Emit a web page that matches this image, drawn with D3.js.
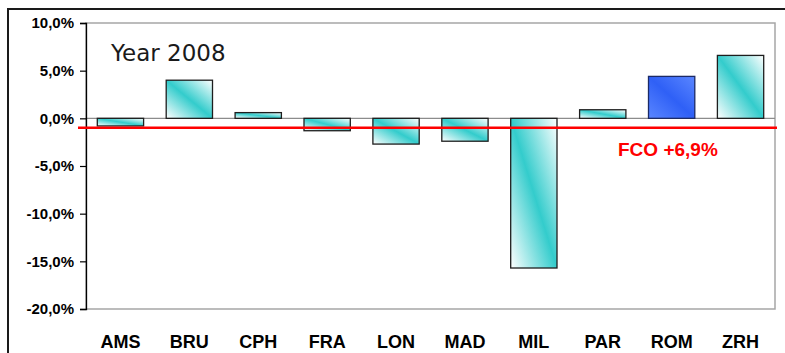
<!DOCTYPE html>
<html>
<head>
<meta charset="utf-8">
<script src="https://cdn.jsdelivr.net/npm/d3@7"></script>
<style>
  html, body { margin: 0; padding: 0; background: #fff; }
  svg { display: block; }
</style>
</head>
<body>
<svg id="chart" width="785" height="353"></svg>
<script>
// ---- data ----
const categories = ["AMS", "BRU", "CPH", "FRA", "LON", "MAD", "MIL", "PAR", "ROM", "ZRH"];
const values = [-0.8, 4.0, 0.6, -1.3, -2.7, -2.4, -15.7, 0.9, 4.4, 6.6];
const highlighted = ["ROM"];
const yTicks = [-20, -15, -10, -5, 0, 5, 10];
const yDomain = [-20, 10];
const referenceValue = -1.0;
const referenceLabel = "FCO +6,9%";
const titleText = "Year 2008";

// ---- layout ----
const svg = d3.select("#chart");
const plot = { left: 86, right: 775, top: 23, bottom: 309 };

const x = d3.scaleBand().domain(categories).range([plot.left, plot.right])
  .paddingInner(0.328).paddingOuter(0.164);
const y = d3.scaleLinear().domain(yDomain).range([plot.bottom, plot.top]);

// gradients
const defs = svg.append("defs");
const gTeal = defs.append("linearGradient").attr("id", "teal")
  .attr("x1", 0).attr("y1", 1).attr("x2", 1).attr("y2", 0);
gTeal.append("stop").attr("offset", "0%").attr("stop-color", "#ffffff");
gTeal.append("stop").attr("offset", "50%").attr("stop-color", "#33cccc");
gTeal.append("stop").attr("offset", "100%").attr("stop-color", "#ffffff");
const gBlue = defs.append("linearGradient").attr("id", "blue")
  .attr("x1", 0).attr("y1", 1).attr("x2", 1).attr("y2", 0);
gBlue.append("stop").attr("offset", "0%").attr("stop-color", "#5a86ff");
gBlue.append("stop").attr("offset", "50%").attr("stop-color", "#2f60f6");
gBlue.append("stop").attr("offset", "100%").attr("stop-color", "#5a86ff");

// outer frame
svg.append("line").attr("x1", 8).attr("x2", 785).attr("y1", 9).attr("y2", 9)
  .attr("stroke", "#1a1a1a").attr("stroke-width", 2);
svg.append("line").attr("x1", 8).attr("x2", 8).attr("y1", 8).attr("y2", 353)
  .attr("stroke", "#1a1a1a").attr("stroke-width", 2);

// plot area border (gray)
svg.append("rect")
  .attr("x", plot.left).attr("y", plot.top)
  .attr("width", plot.right - plot.left).attr("height", plot.bottom - plot.top)
  .attr("fill", "none").attr("stroke", "#a6a6a6").attr("stroke-width", 1.5);

// zero line
svg.append("line")
  .attr("x1", plot.left).attr("x2", plot.right)
  .attr("y1", y(0)).attr("y2", y(0))
  .attr("stroke", "#8c8c8c").attr("stroke-width", 1.2);

// bars
svg.append("g").selectAll("rect")
  .data(categories.map((c, i) => ({ c, v: values[i] })))
  .join("rect")
  .attr("x", d => x(d.c))
  .attr("width", x.bandwidth())
  .attr("y", d => y(Math.max(0, d.v)))
  .attr("height", d => Math.abs(y(d.v) - y(0)))
  .attr("fill", d => highlighted.includes(d.c) ? "url(#blue)" : "url(#teal)")
  .attr("stroke", d => highlighted.includes(d.c) ? "#1b2a66" : "#1e1e1e")
  .attr("stroke-width", 1.3);

// y axis
const yAxis = svg.append("g")
  .attr("transform", `translate(${plot.left},0)`)
  .call(d3.axisLeft(y).tickValues(yTicks).tickSize(6).tickPadding(6)
    .tickFormat(d => d.toFixed(1).replace(".", ",") + "%"));
yAxis.select(".domain").attr("stroke", "#000").attr("stroke-width", 1.3);
yAxis.selectAll(".tick line").attr("stroke", "#000").attr("stroke-width", 1.2);
yAxis.selectAll(".tick text")
  .attr("font-family", "'Liberation Sans', Arial, sans-serif")
  .attr("font-weight", "bold").attr("font-size", 15).attr("fill", "#000");

// category labels
const xAxis = svg.append("g")
  .attr("transform", `translate(0,${plot.bottom})`)
  .call(d3.axisBottom(x).tickSize(0).tickPadding(26));
xAxis.select(".domain").remove();
xAxis.selectAll(".tick text")
  .attr("font-family", "'Liberation Sans', Arial, sans-serif")
  .attr("font-weight", "bold").attr("font-size", 18).attr("fill", "#000");

// reference line
svg.append("line")
  .attr("x1", 78).attr("x2", 777)
  .attr("y1", y(referenceValue)).attr("y2", y(referenceValue))
  .attr("stroke", "#ff0000").attr("stroke-width", 2.5);

svg.append("text")
  .attr("x", 618).attr("y", 156)
  .attr("font-family", "'Liberation Sans', Arial, sans-serif")
  .attr("font-weight", "bold").attr("font-size", 19).attr("fill", "#ff0000")
  .text(referenceLabel);

// title inside plot
svg.append("text")
  .attr("x", 111).attr("y", 61)
  .attr("font-family", "'DejaVu Sans', Verdana, sans-serif")
  .attr("font-size", 23).attr("fill", "#1a1a1a")
  .text(titleText);
</script>
</body>
</html>
